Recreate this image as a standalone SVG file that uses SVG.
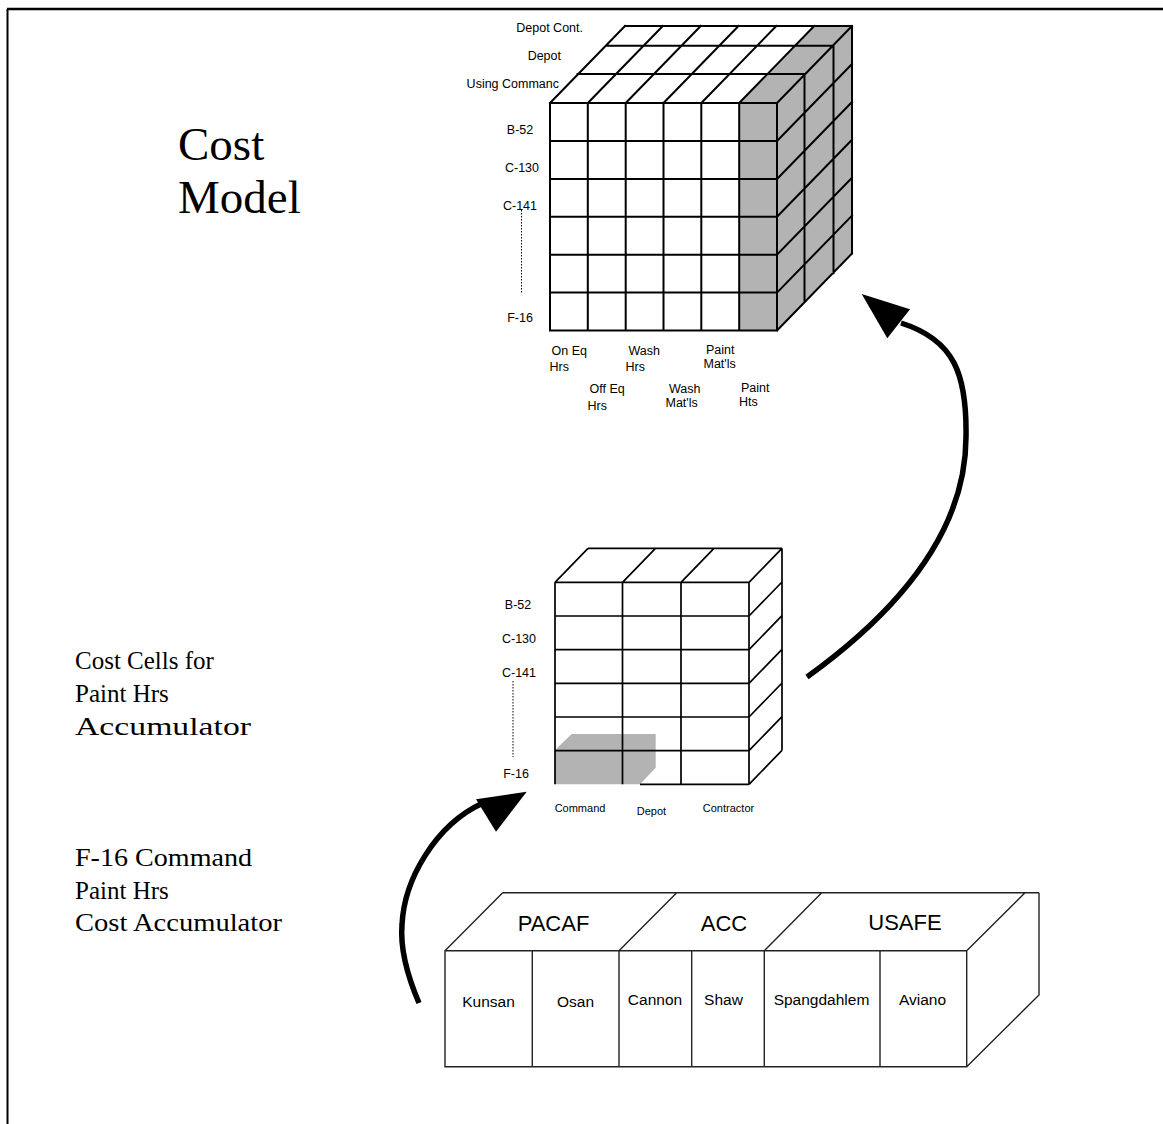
<svg xmlns="http://www.w3.org/2000/svg" width="1163" height="1124" viewBox="0 0 1163 1124">
<style>
.g{stroke:#000;stroke-width:2;fill:none;stroke-linecap:square}
.m{stroke:#000;stroke-width:1.7;fill:none}
.b{stroke:#222;stroke-width:1.4;fill:none}
.gray{fill:#b3b3b3;stroke:none}
.s{font-family:"Liberation Sans",Arial,sans-serif;font-size:12.5px;fill:#000}
.xs{font-family:"Liberation Sans",Arial,sans-serif;font-size:11px;fill:#000}
.site{font-family:"Liberation Sans",Arial,sans-serif;font-size:15.5px;fill:#000;text-anchor:middle}
.cmd{font-family:"Liberation Sans",Arial,sans-serif;font-size:22px;fill:#000;text-anchor:middle}
.t{font-family:"Liberation Serif","Times New Roman",serif;fill:#000}
.arr{stroke:#000;stroke-width:5.5;fill:none}
.c{text-anchor:middle}
.e{text-anchor:end}
.dot{stroke:#000;stroke-width:1;stroke-dasharray:1.5 1.5;fill:none}
</style>
<rect width="1163" height="1124" fill="#fff"/>
<g id="frame">
<line x1="7" y1="9" x2="1163" y2="9" stroke="#000" stroke-width="2.5"/>
<line x1="7.5" y1="9" x2="7.5" y2="1124" stroke="#000" stroke-width="2"/>
</g>
<g id="title">
<text class="t" x="178" y="160" font-size="47">Cost</text>
<text class="t" x="178" y="213" font-size="47">Model</text>
</g>
<g id="cost-model-cube">
<rect class="gray" x="739.2" y="103" width="37.8" height="227.5"/>
<polygon class="gray" points="739.2,103 777,103 852,26 814.2,26"/>
<polygon class="gray" points="777,103 852,26 852,253.5 777,330.5"/>
<path class="g" d="M550,103H777M550,141H777M550,179H777M550,216.8H777M550,254.7H777M550,292.6H777M550,330.5H777
M550,103V330.5M587.8,103V330.5M625.7,103V330.5M663.5,103V330.5M701.3,103V330.5M739.2,103V330.5M777,103V330.5
M577.5,74H804.5M606.5,45.7H833.5M625,26H852
M550,103L625,26M587.8,103L662.8,26M625.7,103L700.7,26M663.5,103L738.5,26M701.3,103L776.3,26M739.2,103L814.2,26M777,103L852,26
M804.5,74V301.5M833.5,45.7V273.2M852,26V253.5
M777,141L852,64M777,179L852,102M777,216.8L852,139.8M777,254.7L852,177.7M777,292.6L852,215.6M777,330.5L852,253.5"/>
<text class="s e" x="583" y="32">Depot Cont.</text>
<text class="s e" x="561" y="60">Depot</text>
<text class="s e" x="559" y="88">Using Commanc</text>
<text class="s c" x="520" y="134">B-52</text>
<text class="s c" x="522" y="172">C-130</text>
<text class="s c" x="520" y="210">C-141</text>
<line class="dot" x1="521.5" y1="210" x2="521.5" y2="293"/>
<text class="s c" x="520" y="322">F-16</text>
<text class="s" x="551.5" y="355">On Eq</text>
<text class="s" x="549.5" y="371">Hrs</text>
<text class="s" x="589.5" y="393">Off Eq</text>
<text class="s" x="587.5" y="410">Hrs</text>
<text class="s" x="628.5" y="355">Wash</text>
<text class="s" x="625.5" y="371">Hrs</text>
<text class="s" x="669" y="393">Wash</text>
<text class="s" x="665.5" y="407">Mat'ls</text>
<text class="s" x="706" y="354">Paint</text>
<text class="s" x="703.5" y="368">Mat'ls</text>
<text class="s" x="741" y="392">Paint</text>
<text class="s" x="739" y="406">Hts</text>
</g>
<g id="cost-cells-cube">
<polygon class="gray" points="554.5,750.6 571.7,734 655.7,734 655.7,767.7 640,784.3 554.5,784.3"/>
<path class="m" d="M555,582.3H749M555,616H749M555,649.6H749M555,683.3H749M555,717H749M555,750.6H749M640,784.3H749
M555,582.3V784.3M622.5,582.3V784.3M681,582.3V784.3M749,582.3V784.3
M588,548.3H782M555,582.3L588,548.3M622.5,582.3L655.5,548.3M681,582.3L714,548.3M749,582.3L782,548.3
M782,548.3V750.3M749,616L782,582M749,649.6L782,615.6M749,683.3L782,649.3M749,717L782,683M749,750.6L782,716.6M749,784.3L782,750.3"/>
<text class="s c" x="518" y="609">B-52</text>
<text class="s c" x="519" y="643">C-130</text>
<text class="s c" x="519" y="677">C-141</text>
<line class="dot" x1="513" y1="681" x2="513" y2="757"/>
<text class="s c" x="516" y="778">F-16</text>
<text class="xs c" x="580" y="812">Command</text>
<text class="xs c" x="651.5" y="815">Depot</text>
<text class="xs c" x="728.5" y="812">Contractor</text>
</g>
<g id="accumulator-box">
<path class="b" d="M445,950.7H966.7V1066.7H445Z M532.3,950.7V1066.7M619,950.7V1066.7M691.7,950.7V1066.7M764.3,950.7V1066.7M880,950.7V1066.7
M502.7,892.7H1039M445,950.7L502.7,892.7M619,950.7L676.7,892.7M764.3,950.7L821.7,892.7M966.7,950.7L1025,892.7
M1039,892.7V995L966.7,1066.7"/>
<text class="cmd" x="553.5" y="931">PACAF</text>
<text class="cmd" x="724" y="931">ACC</text>
<text class="cmd" x="905" y="929.5">USAFE</text>
<text class="site" x="488.5" y="1007">Kunsan</text>
<text class="site" x="575.5" y="1007">Osan</text>
<text class="site" x="655" y="1005">Cannon</text>
<text class="site" x="723.5" y="1005">Shaw</text>
<text class="site" x="821.5" y="1005">Spangdahlem</text>
<text class="site" x="922.5" y="1005">Aviano</text>
</g>
<g id="side-labels">
<text class="t" x="75" y="669" font-size="25">Cost Cells for</text>
<text class="t" x="75" y="702" font-size="25">Paint Hrs</text>
<text class="t" x="75" y="735" font-size="25" textLength="176" lengthAdjust="spacingAndGlyphs">Accumulator</text>
<text class="t" x="75" y="866" font-size="25" textLength="177" lengthAdjust="spacingAndGlyphs">F-16 Command</text>
<text class="t" x="75" y="899" font-size="25">Paint Hrs</text>
<text class="t" x="75" y="931" font-size="25" textLength="207" lengthAdjust="spacingAndGlyphs">Cost Accumulator</text>
</g>
<g id="connectors">
<path class="arr" d="M807,677 C900,610 966,530 966,437 C967,375 955,340 901,323"/>
<polygon points="861.7,294 910,309.3 887.3,338.3" fill="#000"/>
<path class="arr" d="M419,1003 C407,975 400,950 402,925 C404,880 435,825 483,803"/>
<polygon points="526.7,791.7 476,799.3 496,831.7" fill="#000"/>
</g>
</svg>
